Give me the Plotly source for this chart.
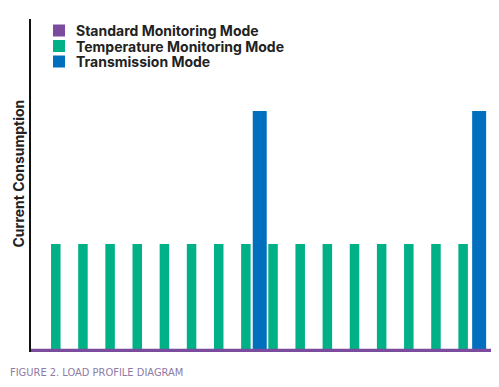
import plotly.graph_objects as go

# ---- data ----
series_names = ["Standard Monitoring Mode", "Temperature Monitoring Mode", "Transmission Mode"]
colors = ["#7b4c9e", "#00b087", "#006fbd"]

standard_span = [-0.913, 16.10]      # time span of continuous baseline current
standard_level = 0.031

temp_times = list(range(16))
temp_values = [1.0] * 16

tx_times = [7.51, 15.59]
tx_values = [2.23, 2.23]

y_title = "Current Consumption"
caption = "FIGURE 2. LOAD PROFILE DIAGRAM"

fig = go.Figure()

fig.add_trace(go.Bar(
    x=temp_times, y=temp_values, width=0.35,
    marker=dict(color=colors[1], line=dict(width=0)),
    name=series_names[1], showlegend=False,
))
fig.add_trace(go.Bar(
    x=tx_times, y=tx_values, width=0.515,
    marker=dict(color=colors[2], line=dict(width=0)),
    name=series_names[2], showlegend=False,
))
fig.add_trace(go.Bar(
    x=[(standard_span[0] + standard_span[1]) / 2], y=[standard_level],
    width=[standard_span[1] - standard_span[0]],
    marker=dict(color=colors[0], line=dict(width=0)),
    name=series_names[0], showlegend=False,
))

W, H = 491, 379
ml, mr, mt, mb = 23, 6, 11, 35
pw, ph = W - ml - mr, H - mt - mb

def px(x):
    return (x - ml) / pw

def py(y):
    return 1 - (y - mt) / ph

# manual legend (compact row spacing as in the reference)
row_y = [22.5, 38.0, 53.5]
sq = 12
for name, col, ry in zip(series_names, colors, row_y):
    fig.add_shape(type="rect", xref="paper", yref="paper",
                  x0=px(45), x1=px(45 + sq), y0=py(ry + sq / 2), y1=py(ry - sq / 2),
                  fillcolor=col, line=dict(width=0), layer="above")
    fig.add_annotation(text=name, xref="paper", yref="paper", x=px(66), y=py(ry),
                       xanchor="left", yanchor="middle", showarrow=False,
                       font=dict(family="Inter, Roboto, sans-serif", size=14,
                                 color="#222222", weight=700))

fig.update_layout(
    width=W, height=H,
    margin=dict(l=ml, r=mr, t=mt, b=mb),
    paper_bgcolor="white", plot_bgcolor="white",
    barmode="overlay",
    showlegend=False,
    xaxis=dict(range=standard_span, showgrid=False, zeroline=False, showticklabels=False,
               showline=False, ticks=""),
    yaxis=dict(range=[0, 3.08], showgrid=False, zeroline=False, showticklabels=False,
               showline=True, linecolor="#111111", linewidth=2, ticks=""),
    font=dict(family="Inter, Roboto, sans-serif"),
)

fig.add_annotation(
    text=y_title, textangle=-90, xref="paper", yref="paper",
    x=px(9.5), y=py(166), xanchor="center", yanchor="middle", showarrow=False,
    font=dict(family="Inter, Roboto, sans-serif", size=14, color="#222222", weight=700),
)
fig.add_annotation(
    text=caption, xref="paper", yref="paper",
    x=px(0), y=py(364.5), xanchor="left", yanchor="middle", showarrow=False,
    font=dict(family="Liberation Sans Narrow, DejaVu Sans Condensed, Roboto Condensed, sans-serif",
              size=11, color="#8e7aa6"),
)

fig.write_html("out.html")
